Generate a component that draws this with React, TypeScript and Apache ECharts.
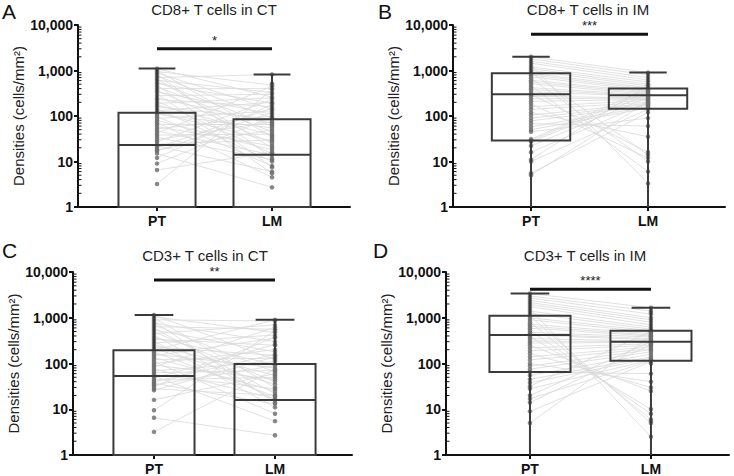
import React, { useEffect, useRef } from 'react';
import * as echarts from 'echarts';

const categories = ['PT', 'LM'];
const panelLetters = ['A', 'B', 'C', 'D'];
const panelTitles = ['CD8+ T cells in CT', 'CD8+ T cells in IM', 'CD3+ T cells in CT', 'CD3+ T cells in IM'];
const significance = ['*', '***', '**', '****'];
const sigBarValues = [3000, 6300, 6700, 4200];
const yAxisName = 'Densities (cells/mm²)';

// box stats: [min, Q1, median, Q3, max]; 0 = at or below the axis floor
const boxA_PT = [0, 0, 23, 118, 1100];
const boxA_LM = [0, 0, 14, 85, 820];
const boxB_PT = [0, 29, 300, 870, 2000];
const boxB_LM = [0, 145, 285, 400, 900];
const boxC_PT = [0, 0, 53, 195, 1150];
const boxC_LM = [0, 0, 16, 97, 900];
const boxD_PT = [0, 65, 420, 1100, 3400];
const boxD_LM = [0, 115, 300, 520, 1650];

// paired patient values (PT[i] <-> LM[i])
const pairsA_PT = [1100, 1000, 950, 880, 820, 760, 700, 650, 610, 560, 520, 480, 440, 400, 370, 340, 310, 280, 250, 230, 210, 190, 175, 160, 145, 130, 118, 108, 98, 88, 80, 72, 65, 58, 52, 47, 42, 38, 34, 30, 27, 24, 22, 20, 18, 17, 15, 12, 9, 6.5, 3.2, 0, 0, 0, 0, 0, 0, 0, 0, 0];
const pairsA_LM = [260, 35, 480, 140, 12, 90, 820, 20, 330, 60, 190, 7.5, 45, 400, 25, 110, 5.5, 300, 70, 160, 15, 250, 38, 85, 10, 200, 28, 55, 8, 130, 18, 4.5, 65, 22, 100, 14, 450, 40, 11, 75, 230, 30, 6, 150, 50, 120, 2.7, 180, 95, 16, 380, 33, 520, 0, 0, 0, 0, 0, 0, 0];

const pairsB_PT = [2000, 1800, 1600, 1450, 1300, 1200, 1100, 1000, 920, 870, 800, 730, 670, 610, 560, 510, 460, 420, 380, 340, 300, 270, 240, 210, 185, 160, 140, 120, 105, 90, 78, 68, 58, 50, 45, 31, 29, 27, 22, 16, 11, 10, 5.5, 5, 0, 0];
const pairsB_LM = [900, 800, 700, 620, 3.3, 560, 500, 460, 14, 420, 390, 360, 10, 340, 320, 300, 6, 290, 280, 270, 16, 250, 240, 230, 12, 220, 200, 35, 190, 180, 170, 60, 160, 150, 90, 400, 350, 300, 260, 200, 480, 140, 120, 210, 180, 150];

const pairsC_PT = [1150, 1050, 980, 900, 830, 760, 700, 640, 590, 540, 490, 450, 410, 370, 340, 310, 280, 255, 230, 210, 195, 178, 162, 148, 135, 122, 110, 100, 92, 84, 76, 69, 63, 57, 53, 48, 44, 40, 37, 34, 31, 28, 26, 16, 9.5, 6.5, 3.2, 0, 0, 0, 0, 0, 0, 0, 0, 0, 0];
const pairsC_LM = [120, 480, 30, 850, 14, 300, 65, 560, 22, 180, 40, 700, 16, 95, 250, 11, 420, 55, 150, 35, 900, 19, 80, 360, 25, 130, 8, 200, 45, 620, 17, 110, 70, 28, 5.5, 260, 50, 160, 13, 90, 380, 20, 140, 60, 520, 2.7, 75, 0, 0, 0, 0, 0, 0, 0, 0, 0, 0];

const pairsD_PT = [3400, 3000, 2700, 2400, 2150, 1950, 1750, 1550, 1400, 1250, 1100, 1000, 900, 800, 720, 650, 590, 530, 480, 440, 420, 390, 350, 310, 280, 250, 220, 190, 165, 140, 120, 100, 88, 75, 65, 55, 45, 38, 32, 28, 20, 17, 14, 9, 5, 0, 0, 0];
const pairsD_LM = [1650, 1400, 1200, 1000, 900, 800, 700, 2.5, 620, 560, 5, 520, 480, 6, 450, 420, 400, 8, 380, 350, 330, 10, 310, 300, 290, 25, 270, 250, 30, 230, 210, 40, 200, 180, 60, 160, 140, 130, 500, 120, 300, 115, 260, 110, 400, 100, 5.5, 1300];

const panels = [
  { box: [boxA_PT, boxA_LM], pt: pairsA_PT, lm: pairsA_LM },
  { box: [boxB_PT, boxB_LM], pt: pairsB_PT, lm: pairsB_LM },
  { box: [boxC_PT, boxC_LM], pt: pairsC_PT, lm: pairsC_LM },
  { box: [boxD_PT, boxD_LM], pt: pairsD_PT, lm: pairsD_LM },
];

const layouts = [
  { left: 78, top: 25, width: 272, height: 182, xMin: -0.687, xMax: 1.678, nameGap: 51, titleX: 214, titleY: 9, letterX: 2, letterY: 1 },
  { left: 453, top: 25, width: 272, height: 182, xMin: -0.667, xMax: 1.658, nameGap: 49, titleX: 588, titleY: 9, letterX: 378, letterY: 1 },
  { left: 73, top: 272, width: 279, height: 183, xMin: -0.669, xMax: 1.636, nameGap: 49, titleX: 205, titleY: 255, letterX: 2, letterY: 240 },
  { left: 446, top: 272, width: 283, height: 183, xMin: -0.694, xMax: 1.645, nameGap: 45, titleX: 585, titleY: 255, letterX: 373, letterY: 240 },
];

const FONT = '"Liberation Sans", Arial, Helvetica, sans-serif';
const INK = '#111';
const BOX = '#3a3a3a';

const minorValues: number[] = [];
[1, 10, 100, 1000].forEach((d) => {
  for (let k = 2; k <= 9; k++) minorValues.push(k * d);
});

function buildOption() {
  const grid: any[] = [];
  const xAxis: any[] = [];
  const yAxis: any[] = [];
  const series: any[] = [];
  const graphic: any[] = [];

  panels.forEach((p, i) => {
    const L = layouts[i];
    grid.push({ left: L.left, top: L.top, width: L.width, height: L.height, containLabel: false });
    xAxis.push({
      type: 'value',
      gridIndex: i,
      min: L.xMin,
      max: L.xMax,
      axisLine: { show: true, onZero: false, lineStyle: { color: INK, width: 2 } },
      axisTick: { show: true, customValues: [0, 1], length: 4, lineStyle: { color: INK, width: 2 } },
      axisLabel: {
        customValues: [0, 1],
        formatter: (v: number) => categories[Math.round(v)] ?? '',
        fontFamily: FONT,
        fontWeight: 'bold',
        fontSize: 14,
        color: INK,
        margin: 7,
      },
      splitLine: { show: false },
    });
    yAxis.push({
      type: 'log',
      logBase: 10,
      gridIndex: i,
      min: 1,
      max: 10000,
      name: yAxisName,
      nameLocation: 'middle',
      nameGap: L.nameGap,
      nameTextStyle: { fontFamily: FONT, fontSize: 15, color: '#222' },
      axisLine: { show: true, onZero: false, lineStyle: { color: INK, width: 2 } },
      axisTick: { show: true, length: 4, lineStyle: { color: INK, width: 2 } },
      axisLabel: {
        formatter: (v: number) => Math.round(v).toLocaleString('en-US'),
        fontFamily: FONT,
        fontWeight: 'bold',
        fontSize: 14,
        color: INK,
        margin: 5,
      },
      splitLine: { show: false },
    });

    // paired lines
    const pairData: number[][] = [];
    p.pt.forEach((a, j) => {
      const b = p.lm[j];
      if (a > 0 && b > 0) pairData.push([a, b]);
    });
    series.push({
      type: 'custom',
      xAxisIndex: i,
      yAxisIndex: i,
      silent: true,
      z: 1,
      data: pairData,
      renderItem: (params: any, api: any) => {
        const a = api.value(0);
        const b = api.value(1);
        const p1 = api.coord([0, a]);
        const p2 = api.coord([1, b]);
        return {
          type: 'line',
          shape: { x1: p1[0], y1: p1[1], x2: p2[0], y2: p2[1] },
          style: { stroke: '#d9d9d9', lineWidth: 0.8 },
        };
      },
    });

    // dots
    const dots: number[][] = [];
    p.pt.forEach((v) => { if (v > 0) dots.push([0, v]); });
    p.lm.forEach((v) => { if (v > 0) dots.push([1, v]); });
    series.push({
      type: 'scatter',
      xAxisIndex: i,
      yAxisIndex: i,
      silent: true,
      z: 2,
      symbol: 'circle',
      symbolSize: 4.5,
      itemStyle: { color: '#6a6a6a' },
      data: dots,
    });

    // boxes
    series.push({
      type: 'custom',
      xAxisIndex: i,
      yAxisIndex: i,
      silent: true,
      z: 3,
      data: p.box.map((b, k) => [k, ...b]),
      renderItem: (params: any, api: any) => {
        const cs = params.coordSys;
        const bottom = cs.y + cs.height;
        const x = api.value(0);
        const mn = api.value(1), q1 = api.value(2), md = api.value(3), q3 = api.value(4), mx = api.value(5);
        const toY = (v: number) => (v >= 1 ? api.coord([x, v])[1] : bottom);
        const cx = api.coord([x, 10])[0];
        const xl = api.coord([x - 0.335, 10])[0];
        const xr = api.coord([x + 0.335, 10])[0];
        const cl = api.coord([x - 0.16, 10])[0];
        const cr = api.coord([x + 0.16, 10])[0];
        const yq1 = toY(q1), yq3 = toY(q3), ymd = toY(md), ymx = toY(mx), ymn = toY(mn);
        const st = { stroke: BOX, lineWidth: 2, fill: null };
        const children: any[] = [
          { type: 'line', shape: { x1: cx, y1: yq3, x2: cx, y2: ymx }, style: st },
          { type: 'line', shape: { x1: cl, y1: ymx, x2: cr, y2: ymx }, style: st },
          { type: 'rect', shape: { x: xl, y: yq3, width: xr - xl, height: yq1 - yq3 }, style: { stroke: BOX, lineWidth: 2, fill: 'none' } },
          { type: 'line', shape: { x1: xl, y1: ymd, x2: xr, y2: ymd }, style: st },
        ];
        if (yq1 < ymn) {
          children.push({ type: 'line', shape: { x1: cx, y1: yq1, x2: cx, y2: ymn }, style: st });
          if (mn >= 1) children.push({ type: 'line', shape: { x1: cl, y1: ymn, x2: cr, y2: ymn }, style: st });
        }
        return { type: 'group', children };
      },
    });

    // significance bar
    series.push({
      type: 'custom',
      xAxisIndex: i,
      yAxisIndex: i,
      silent: true,
      z: 4,
      data: [[sigBarValues[i]]],
      renderItem: (params: any, api: any) => {
        const yv = api.value(0);
        const p1 = api.coord([0, yv]);
        const p2 = api.coord([1, yv]);
        return {
          type: 'group',
          children: [
            { type: 'line', shape: { x1: p1[0], y1: p1[1], x2: p2[0], y2: p2[1] }, style: { stroke: INK, lineWidth: 3 } },
            {
              type: 'text',
              x: (p1[0] + p2[0]) / 2,
              y: p1[1] - 2,
              style: { text: significance[i], fontFamily: FONT, fontSize: 13, fill: '#222', align: 'center', verticalAlign: 'bottom' },
            },
          ],
        };
      },
    });

    // minor log ticks (inside)
    series.push({
      type: 'custom',
      xAxisIndex: i,
      yAxisIndex: i,
      silent: true,
      z: 5,
      data: minorValues.map((v) => [L.xMin, v]),
      renderItem: (params: any, api: any) => {
        const cs = params.coordSys;
        const y = api.coord([L.xMin, api.value(1)])[1];
        return {
          type: 'line',
          shape: { x1: cs.x, y1: y, x2: cs.x + 3.5, y2: y },
          style: { stroke: INK, lineWidth: 1 },
        };
      },
    });

    graphic.push({
      type: 'text',
      x: L.titleX,
      y: L.titleY,
      style: { text: panelTitles[i], fontFamily: FONT, fontSize: 15, fill: '#222', align: 'center', verticalAlign: 'middle' },
    });
    graphic.push({
      type: 'text',
      x: L.letterX,
      y: L.letterY,
      style: { text: panelLetters[i], fontFamily: FONT, fontSize: 21, fill: INK, align: 'left', verticalAlign: 'top' },
    });
  });

  return { animation: false, backgroundColor: '#fff', grid, xAxis, yAxis, series, graphic };
}

export default function App() {
  const ref = useRef<HTMLDivElement>(null);
  useEffect(() => {
    if (!ref.current) return;
    const chart = echarts.init(ref.current, null, { renderer: 'svg' });
    chart.setOption(buildOption() as any);
    return () => chart.dispose();
  }, []);
  return <div ref={ref} style={{ width: 734, height: 476, position: 'absolute', left: 0, top: 0 }} />;
}
